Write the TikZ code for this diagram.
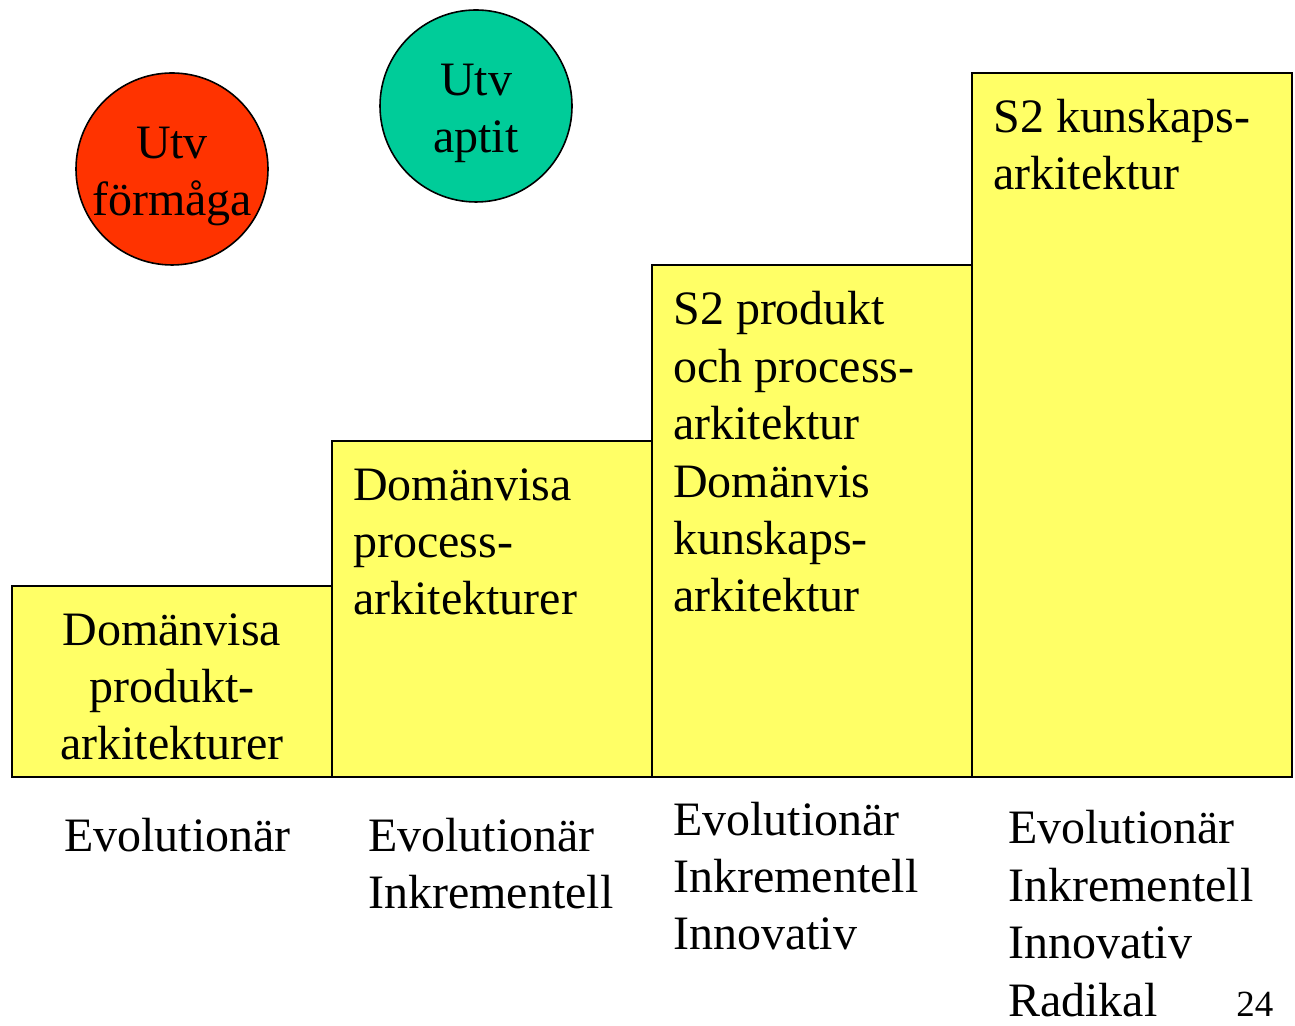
\documentclass[tikz,border=0pt]{standalone}
\usepackage{fontspec}
\setmainfont{Liberation Serif}
\tikzset{
  txt/.style={inner sep=0pt, font=\fontsize{27.3}{32.7}\selectfont},
  stepbox/.style={draw=black, line width=0.04cm, fill=r255g255b102},
}
\definecolor{r255g255b102}{rgb}{1.000000,1.000000,0.400000}
\definecolor{r255g51b0}{rgb}{1.000000,0.200000,0.000000}
\definecolor{r0g204b153}{rgb}{0.000000,0.800000,0.600000}
\begin{document}
\begin{tikzpicture}
% \clip (0,0) rectangle (25.900000,20.500000);
\useasboundingbox (0,0) rectangle (25.900000,20.500000);

% Drawing circle Utv formaga
\draw [line width=0.032cm, fill=r255g51b0] (3.440000,17.120000) circle (1.920000);
\node [txt, align=center, anchor=base] (formaga) at (3.440000,16.180000) {Utv\\förmåga};

% Drawing circle Utv aptit
\draw [line width=0.032cm, fill=r0g204b153] (9.520000,18.380000) circle (1.920000);
\node [txt, align=center, anchor=base] (aptit) at (9.520000,17.440000) {Utv\\aptit};

% Drawing steps
\draw [stepbox] (0.240000,4.960000) rectangle (6.640000,8.780000);
\draw [stepbox] (6.640000,4.960000) rectangle (13.040000,11.680000);
\draw [stepbox] (13.040000,4.960000) rectangle (19.440000,15.200000);
\draw [stepbox] (19.440000,4.960000) rectangle (25.840000,19.040000);

% Marking step texts (base = last line)
\node [txt, align=center, anchor=base] (prodark) at (3.440000,5.300000) {Domänvisa\\produkt-\\arkitekturer};
\node [txt, align=left, anchor=base west] (procark) at (7.060000,8.200000) {Domänvisa\\process-\\arkitekturer};
\node [txt, align=left, anchor=base west] (kunsark) at (13.460000,8.260000) {S2 produkt\\och process-\\arkitektur\\Domänvis\\kunskaps-\\arkitektur};
\node [txt, align=left, anchor=base west] (s2ark) at (19.860000,16.700000) {S2 kunskaps-\\arkitektur};

% Marking step kinds
\node [txt, align=left, anchor=base west] (kind1) at (1.280000,3.460000) {Evolutionär};
\node [txt, align=left, anchor=base west] (kind2) at (7.360000,2.320000) {Evolutionär\\Inkrementell};
\node [txt, align=left, anchor=base west] (kind3) at (13.460000,1.500000) {Evolutionär\\Inkrementell\\Innovativ};
\node [txt, align=left, anchor=base west, text depth=0pt] (kind4) at (20.160000,0.180000) {Evolutionär\\Inkrementell\\Innovativ\\Radikal};

% Marking page number
\node [inner sep=0pt, font=\fontsize{21}{25}\selectfont, anchor=base west] (page) at (24.720000,0.180000) {24};
\end{tikzpicture}
\end{document}
